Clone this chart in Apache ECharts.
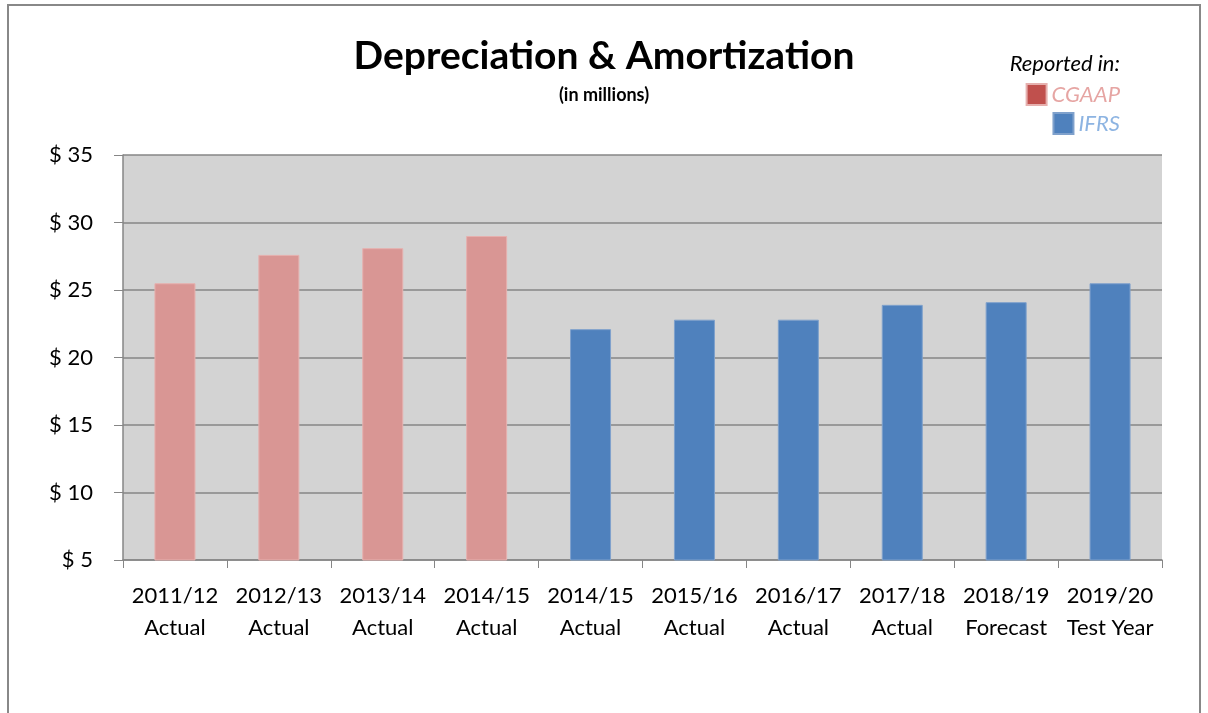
<!DOCTYPE html>
<html>
<head>
<meta charset="utf-8">
<script src="https://cdn.jsdelivr.net/npm/echarts@6/dist/echarts.min.js"></script>
<style>
  html, body { margin: 0; padding: 0; background: #fff; }
  #main { width: 1208px; height: 713px; }
</style>
</head>
<body>
<div id="main"></div>
<script>
var categories = ['2011/12\nActual', '2012/13\nActual', '2013/14\nActual', '2014/15\nActual', '2014/15\nActual',
    '2015/16\nActual', '2016/17\nActual', '2017/18\nActual', '2018/19\nForecast', '2019/20\nTest Year'];
// CGAAP years first, IFRS after
var cgaapValues = [25.5, 27.6, 28.1, 29.0, '-', '-', '-', '-', '-', '-'];
var ifrsValues = ['-', '-', '-', '-', 22.1, 22.8, 22.8, 23.9, 24.1, 25.5];

var chart = echarts.init(document.getElementById('main'));

var option = {
    backgroundColor: '#fff',
    textStyle: { fontFamily: 'Lato' },
    title: [{
        text: 'Depreciation & Amortization',
        left: 'center',
        top: 32,
        textStyle: { fontSize: 39, fontWeight: 'bold', color: '#000', fontFamily: 'Lato' }
    }, {
        text: '(in millions)',
        left: 'center',
        top: 81,
        textStyle: { fontSize: 18, fontWeight: 'bold', color: '#000', fontFamily: 'Lato' }
    }, {
        text: 'Reported in:',
        right: 83,
        top: 48,
        textStyle: { fontSize: 22, fontWeight: 'normal', fontStyle: 'italic', color: '#000', fontFamily: 'Lato' }
    }],
    legend: [{
        data: [{ name: 'CGAAP', itemStyle: { color: '#C0504D' } }],
        right: 83,
        top: 78,
        icon: 'rect',
        itemWidth: 20,
        itemHeight: 21,
        itemGap: 8,
        textStyle: { fontSize: 22, fontStyle: 'italic', color: '#E6A5A3', fontFamily: 'Lato' }
    }, {
        data: [{ name: 'IFRS', itemStyle: { color: '#4F81BD' } }],
        right: 83,
        top: 107,
        icon: 'rect',
        itemWidth: 20,
        itemHeight: 21,
        itemGap: 14,
        textStyle: { fontSize: 22, fontStyle: 'italic', color: '#8DB4E2', fontFamily: 'Lato' }
    }],
    grid: {
        left: 123,
        right: 46,
        top: 155,
        bottom: 153,
        show: true,
        backgroundColor: '#D3D3D3',
        borderWidth: 0
    },
    xAxis: {
        type: 'category',
        data: categories,
        axisLine: { show: true, lineStyle: { color: '#868686', width: 1.5 } },
        axisTick: { show: true, alignWithLabel: false, length: 8, lineStyle: { color: '#868686' } },
        axisLabel: {
            interval: 0,
            color: '#000',
            fontSize: 22,
            lineHeight: 32,
            margin: 20,
            fontFamily: 'Lato'
        }
    },
    yAxis: {
        type: 'value',
        min: 5,
        max: 35,
        interval: 5,
        axisLine: { show: true, lineStyle: { color: '#868686', width: 1.5 } },
        axisTick: { show: true, length: 9, lineStyle: { color: '#868686' } },
        axisLabel: {
            color: '#000',
            fontSize: 22,
            margin: 30,
            fontFamily: 'Lato',
            formatter: function (v) { return '$ ' + v; }
        },
        splitLine: { show: true, lineStyle: { color: '#868686', width: 1.5 } }
    },
    series: [{
        name: 'CGAAP',
        type: 'bar',
        barWidth: 41,
        barGap: '-100%',
        itemStyle: { color: '#D99694', borderColor: '#E6B0AE', borderWidth: 1 },
        data: cgaapValues
    }, {
        name: 'IFRS',
        type: 'bar',
        barWidth: 41,
        itemStyle: { color: '#4F81BD', borderColor: '#7FA1CC', borderWidth: 1 },
        data: ifrsValues
    }],
    graphic: [{
        type: 'rect',
        shape: { x: 8, y: 5, width: 1192, height: 760 },
        style: { fill: null, stroke: '#888', lineWidth: 2 },
        silent: true
    }]
};

chart.setOption(option);
</script>
</body>
</html>
